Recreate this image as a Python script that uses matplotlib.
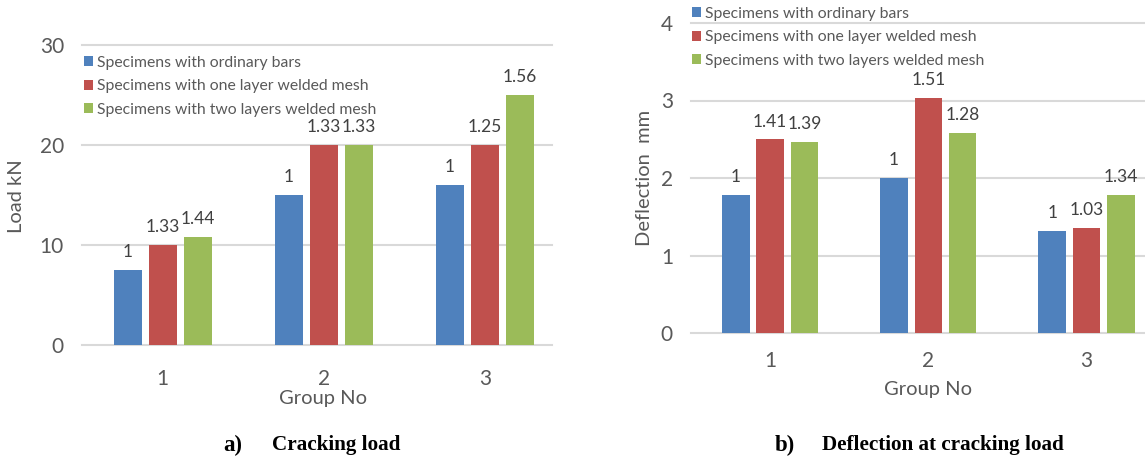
import numpy as np
import matplotlib
matplotlib.use("Agg")
import matplotlib.pyplot as plt
from matplotlib.patches import Patch

# data
groups = ["1", "2", "3"]
series = ["Specimens with ordinary bars",
          "Specimens with one layer welded mesh",
          "Specimens with two layers welded mesh"]

load_ordinary = [7.5, 15, 16]
load_one_layer = [10, 20, 20]
load_two_layers = [10.8, 20, 25]
load_ratio_labels = [["1", "1", "1"],
                     ["1.33", "1.33", "1.25"],
                     ["1.44", "1.33", "1.56"]]

defl_ordinary = [1.78, 2.0, 1.32]
defl_one_layer = [2.5, 3.03, 1.36]
defl_two_layers = [2.47, 2.58, 1.78]
defl_ratio_labels = [["1", "1", "1"],
                     ["1.41", "1.51", "1.03"],
                     ["1.39", "1.28", "1.34"]]

colors = ["#4F81BD", "#C0504D", "#9BBB59"]
grid_col = "#D9D9D9"
txt_col = "#595959"
lab_col = "#404040"

plt.rcParams["font.family"] = ["Lato", "DejaVu Sans"]

W, H = 1145, 459
fig = plt.figure(figsize=(W / 100, H / 100), dpi=100)


def draw_panel(ax, data, labels, yticks, ymax, xmax, xpad, xlab_y, xlab_x):
    x = np.arange(len(groups))
    pitch = 0.217
    width = 0.174
    for i, vals in enumerate(data):
        pos = x + (i - 1) * pitch
        ax.bar(pos, vals, width, color=colors[i], zorder=3)
        for p, v, t in zip(pos, vals, labels[i]):
            ax.annotate(t, (p, v), xytext=(0, 7), textcoords="offset points",
                        ha="center", va="bottom", fontsize=12.5, color=lab_col)
    for t in yticks:
        ax.axhline(t, color=grid_col, lw=1.5, zorder=1, clip_on=False)
    ax.set_xlim(-0.5, xmax)
    ax.set_ylim(0, ymax)
    ax.set_yticks(yticks)
    ax.set_xticks(x)
    ax.set_xticklabels(groups)
    for s in ax.spines.values():
        s.set_visible(False)
    ax.tick_params(axis="both", length=0, labelsize=15, colors=txt_col)
    ax.tick_params(axis="y", pad=13)
    ax.tick_params(axis="x", pad=xpad)
    ax.set_xlabel("Group No", fontsize=14.5, color=txt_col)
    ax.xaxis.set_label_coords(xlab_x, xlab_y)


ax1 = fig.add_axes([82 / W, 1 - 345 / H, 470 / W, 300 / H])
draw_panel(ax1, [load_ordinary, load_one_layer, load_two_layers], load_ratio_labels,
           [0, 10, 20, 30], 30, 2.415, 17, -0.15, 0.513)

ax2 = fig.add_axes([691 / W, 1 - 333 / H, 454 / W, 310 / H])
draw_panel(ax2, [defl_ordinary, defl_one_layer, defl_two_layers], defl_ratio_labels,
           [0, 1, 2, 3, 4], 4, 2.37, 13, -0.155, 0.522)

fig.text(17 / W, 1 - 196 / H, "Load kN", rotation=90, ha="center", va="center",
         fontsize=14.5, color=txt_col)
fig.text(645 / W, 1 - 178 / H, "Deflection  mm", rotation=90, ha="center", va="center",
         fontsize=14.5, color=txt_col)

handles = [Patch(facecolor=c) for c in colors]
for ax, anchor in [(ax1, (84 / W, 1 - 56 / H)), (ax2, (692 / W, 1 - 7 / H))]:
    ax.legend(handles, series, loc="upper left", bbox_to_anchor=anchor,
              bbox_transform=fig.transFigure, frameon=False, fontsize=11.3,
              handlelength=0.6, handleheight=0.6, handletextpad=0.2,
              labelspacing=0.6, borderpad=0, borderaxespad=0,
              labelcolor=txt_col)

cap = dict(family=["Liberation Serif", "DejaVu Serif"], fontweight="bold",
           color="black", va="center")
fig.text(223 / W, 1 - 445 / H, "a)", fontsize=16.5, **cap)
fig.text(272 / W, 1 - 445 / H, "Cracking load", fontsize=15.2, **cap)
fig.text(775 / W, 1 - 445 / H, "b)", fontsize=16.5, **cap)
fig.text(822 / W, 1 - 445 / H, "Deflection at cracking load", fontsize=15.2, **cap)

fig.savefig("out.png", dpi=100)
